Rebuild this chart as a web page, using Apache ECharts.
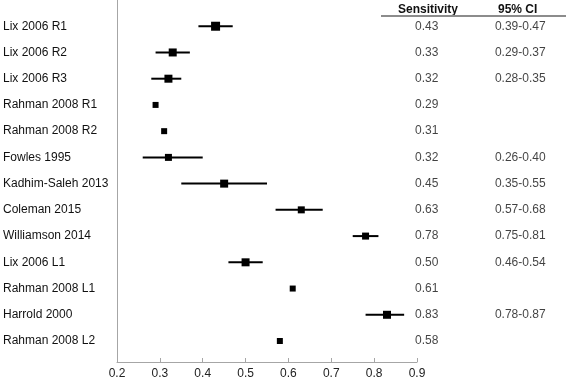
<!DOCTYPE html>
<html>
<head>
<meta charset="utf-8">
<script src="https://cdn.jsdelivr.net/npm/echarts@6/dist/echarts.min.js"></script>
<style>
  html, body {margin: 0; padding: 0; background: #fff;}
  #chart {width: 567px; height: 381px;}
</style>
</head>
<body>
<div id="chart"></div>
<script>
// study names, top to bottom
const studies = [
  'Lix 2006 R1', 'Lix 2006 R2', 'Lix 2006 R3', 'Rahman 2008 R1', 'Rahman 2008 R2',
  'Fowles 1995', 'Kadhim-Saleh 2013', 'Coleman 2015', 'Williamson 2014',
  'Lix 2006 L1', 'Rahman 2008 L1', 'Harrold 2000', 'Rahman 2008 L2'
];
const sensitivity = [0.43, 0.33, 0.32, 0.29, 0.31, 0.32, 0.45, 0.63, 0.78, 0.50, 0.61, 0.83, 0.58];
// null = no CI reported
const ciLow = [0.39, 0.29, 0.28, null, null, 0.26, 0.35, 0.57, 0.75, 0.46, null, 0.78, null];
const ciHigh = [0.47, 0.37, 0.35, null, null, 0.40, 0.55, 0.68, 0.81, 0.54, null, 0.87, null];
const xTicks = ['0.2', '0.3', '0.4', '0.5', '0.6', '0.7', '0.8', '0.9'];

const markerSizes = [9, 8, 8, 6, 6, 7, 8, 7, 7, 8, 6, 8, 6];

const myChart = echarts.init(document.getElementById('chart'));
const font = 'Liberation Sans, Arial, sans-serif';

let pointData = sensitivity.map((v, i) => [v, i + 1]);
let ciData = [];
let sensCol = [];
let ciCol = [];
sensitivity.forEach((v, i) => {
  sensCol.push([0.25, i + 1, v.toFixed(2)]);
  if (ciLow[i] != null) {
    ciData.push([ciLow[i], ciHigh[i], i + 1]);
    ciCol.push([0.75, i + 1, ciLow[i].toFixed(2) + '-' + ciHigh[i].toFixed(2)]);
  }
});

const yBase = {
  type: 'value',
  inverse: true,
  min: 0,
  max: 13.8,
  interval: 1,
  splitLine: {show: false},
  axisTick: {show: false},
};

const option = {
  animation: false,
  textStyle: {fontFamily: font},
  grid: [
    {left: 116, right: 150, top: 0, bottom: 19},
    {left: 380, right: 0, top: 0, bottom: 19},
  ],
  xAxis: [{
    type: 'value',
    gridIndex: 0,
    position: 'bottom',
    min: 0.2,
    max: 0.9,
    interval: 0.1,
    splitLine: {show: false},
    axisLine: {onZero: false, lineStyle: {color: '#a6a6a6', width: 1}},
    axisTick: {inside: true, length: 4, lineStyle: {color: '#a6a6a6'}},
    axisLabel: {
      color: '#222',
      fontSize: 12,
      margin: 6,
      formatter: (v) => xTicks[Math.round((v - 0.2) * 10)]
    }
  }, {
    type: 'value',
    gridIndex: 1,
    min: 0,
    max: 1,
    show: false
  }],
  yAxis: [Object.assign({}, yBase, {
    gridIndex: 0,
    axisLine: {show: true, onZero: false, lineStyle: {color: '#a6a6a6', width: 1}},
    axisLabel: {
      align: 'left',
      margin: 114,
      color: '#111',
      fontSize: 12,
      formatter: (v) => (v >= 1 && v <= studies.length) ? studies[v - 1] : ''
    }
  }), Object.assign({}, yBase, {gridIndex: 1, show: false})],
  graphic: [
    {type: 'text', left: 398, top: 4, style: {text: 'Sensitivity', font: 'bold 12px ' + font, fill: '#111'}},
    {type: 'text', left: 498, top: 4, style: {text: '95% CI', font: 'bold 12px ' + font, fill: '#111'}},
    {type: 'line', shape: {x1: 381, y1: 16, x2: 566, y2: 16}, style: {stroke: '#8c8c8c', lineWidth: 2}},
  ],
  series: [{
    type: 'custom',
    xAxisIndex: 0,
    yAxisIndex: 0,
    data: ciData,
    renderItem(params, api) {
      const a = api.coord([api.value(0), api.value(2)]);
      const b = api.coord([api.value(1), api.value(2)]);
      return {
        type: 'line',
        shape: {x1: a[0], y1: a[1], x2: b[0], y2: b[1]},
        style: {stroke: '#000', lineWidth: 2}
      };
    },
    z: 2
  }, {
    type: 'scatter',
    xAxisIndex: 0,
    yAxisIndex: 0,
    symbol: 'rect',
    symbolSize: (val, p) => markerSizes[p.dataIndex],
    itemStyle: {color: '#000', opacity: 1},
    data: pointData,
    z: 3
  }, {
    type: 'scatter',
    xAxisIndex: 1,
    yAxisIndex: 1,
    symbolSize: 0,
    data: sensCol,
    label: {
      show: true, position: 'inside', color: '#111', fontSize: 12,
      formatter: (p) => p.value[2]
    }
  }, {
    type: 'scatter',
    xAxisIndex: 1,
    yAxisIndex: 1,
    symbolSize: 0,
    data: ciCol,
    label: {
      show: true, position: 'inside', color: '#111', fontSize: 12,
      formatter: (p) => p.value[2]
    }
  }]
};

myChart.setOption(option);
</script>
</body>
</html>
